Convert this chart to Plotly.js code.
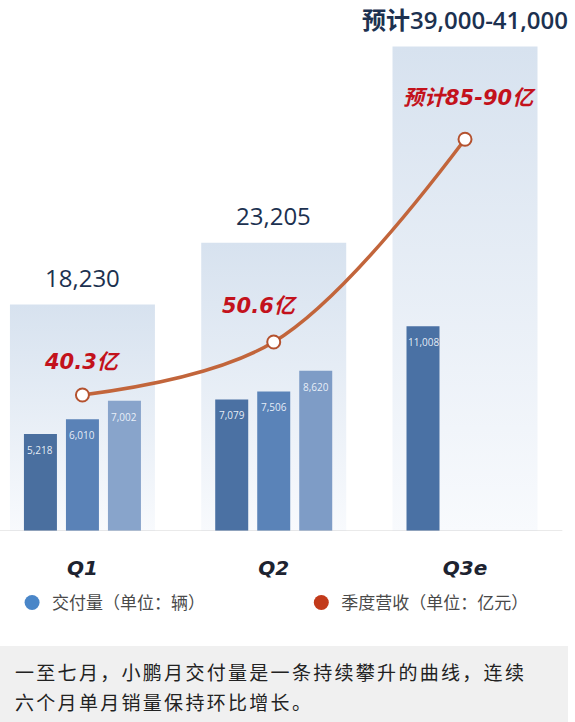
<!DOCTYPE html>
<html>
<head>
<meta charset="utf-8">
<script src="https://cdn.plot.ly/plotly-3.0.1.min.js"></script>
<style>
  html, body { margin: 0; padding: 0; background: #fff; }
  #wrap { position: relative; width: 575px; height: 722px; overflow: hidden; }
  #plot { position: absolute; left: 0; top: 0; width: 575px; height: 646px; }
  #note {
    position: absolute; left: 0; top: 646px; width: 568px; height: 76px;
    background: #f0f0f0; box-sizing: border-box; padding: 11px 0 0 15px;
    font-family: "Noto Sans CJK SC", "Noto Sans", sans-serif; font-size: 19px;
    line-height: 30px; letter-spacing: 2.3px; color: #222;
  }
</style>
</head>
<body>
<div id="wrap">
  <div id="plot"></div>
  <div id="note">一至七月，小鹏月交付量是一条持续攀升的曲线，连续<br>六个月单月销量保持环比增长。</div>
</div>
<script>
const quarters = ['Q1', 'Q2', 'Q3e'];
const quarterTotals = [18230, 23205, 39000];
const quarterTotalLabels = ['18,230', '23,205', '预计39,000-41,000'];
const month1 = [5218, 7079, 11008];
const month2 = [6010, 7506, null];
const month3 = [7002, 8620, null];
const revenue = [40.3, 50.6, 90];
const revenueLabels = ['40.3亿', '50.6亿', '预计85-90亿'];
const legendNames = ['交付量（单位：辆）', '季度营收（单位：亿元）'];

const slots = [month1, month2, month3];
const slotColors = [
  ['#4a6f9f', '#4b71a3', '#4a71a4'],
  ['#5a82b7', '#5a83b8', null],
  ['#88a4cb', '#7e9cc6', null]
];
const pitch = 0.2196;
const barW = 0.1725;
const rectW = 0.758;
const pos = quarters.map((q, i) => i);

const data = [];

// light background blocks = quarter totals
quarterTotals.forEach((t, i) => {
  data.push({
    type: 'scatter', mode: 'none', fill: 'toself',
    x: [i - rectW / 2, i + rectW / 2, i + rectW / 2, i - rectW / 2, i - rectW / 2],
    y: [0, 0, t, t, 0],
    fillgradient: { type: 'vertical', start: 0, stop: t, colorscale: [[0, '#f8fafd'], [1, '#d7e2ef']] },
    hoverinfo: 'skip', showlegend: false
  });
});

// monthly deliveries
slots.forEach((vals, s) => {
  data.push({
    type: 'bar', yaxis: 'y2',
    x: pos.map(p => p + (s - 1) * pitch),
    y: vals, width: barW,
    marker: { color: slotColors[s], line: { width: 0 } },
    hoverinfo: 'skip', showlegend: false
  });
});

// revenue line
data.push({
  type: 'scatter', yaxis: 'y3', mode: 'lines+markers',
  x: pos, y: revenue,
  line: { color: '#c2653b', width: 3.5, shape: 'spline', smoothing: 1 },
  marker: { size: 13, color: '#ffffff', line: { color: '#b4522f', width: 2 } },
  hoverinfo: 'skip', showlegend: false
});

// legend entries
data.push({
  type: 'scatter', mode: 'markers', x: [null], y: [null], name: legendNames[0],
  marker: { size: 15, color: '#4a86c8' }, legend: 'legend'
});
data.push({
  type: 'scatter', mode: 'markers', x: [null], y: [null], name: legendNames[1],
  marker: { size: 15, color: '#c23a1a' }, legend: 'legend2'
});

const annotations = [];
quarterTotals.forEach((t, i) => {
  annotations.push({
    x: i, y: t, xref: 'x', yref: 'y', yanchor: 'middle', yshift: 27,
    text: quarterTotalLabels[i], showarrow: false,
    font: { family: 'Open Sans, Noto Sans CJK SC', size: 24, color: '#1c3150', weight: i === 2 ? 600 : 400 }
  });
});
slots.forEach((vals, s) => {
  vals.forEach((v, i) => {
    if (v == null) return;
    annotations.push({
      x: i + (s - 1) * pitch, y: v, xref: 'x', yref: 'y2', yanchor: 'middle', yshift: -16,
      text: v.toLocaleString('en-US'), showarrow: false,
      font: { family: 'Open Sans', size: 10, color: 'rgba(240,245,252,0.95)' }
    });
  });
});
const revShiftX = [0, -14, 4];
const revShiftY = [33, 36, 41];
revenue.forEach((v, i) => {
  annotations.push({
    x: i, y: v, xref: 'x', yref: 'y3', yanchor: 'middle',
    xshift: revShiftX[i], yshift: revShiftY[i],
    text: revenueLabels[i], showarrow: false,
    font: { family: 'DejaVu Sans, Noto Sans CJK SC', size: 21, color: '#c3121c', weight: 700, style: 'italic' }
  });
});

const legendBase = {
  orientation: 'h', xanchor: 'left', y: -0.1356, yanchor: 'middle',
  font: { family: 'Noto Sans CJK SC', size: 17, color: '#4a4a4a' },
  bgcolor: 'rgba(0,0,0,0)'
};

const layout = {
  width: 575, height: 646,
  margin: { l: 0, r: 0, t: 0, b: 115 },
  paper_bgcolor: '#ffffff', plot_bgcolor: 'rgba(0,0,0,0)',
  barmode: 'overlay',
  showlegend: true,
  legend: Object.assign({}, legendBase, { x: 0.021 }),
  legend2: Object.assign({}, legendBase, { x: 0.524 }),
  xaxis: {
    type: 'linear', range: [-0.431, 2.575], fixedrange: true,
    tickvals: pos, ticktext: quarters,
    ticks: 'outside', ticklen: 19, tickcolor: 'rgba(0,0,0,0)',
    tickfont: { family: 'DejaVu Sans', size: 20, color: '#1d2330', weight: 700, style: 'italic' },
    showgrid: false, zeroline: false, showline: false
  },
  yaxis: { range: [0, 42754], visible: false, fixedrange: true },
  yaxis2: { range: [0, 28564], overlaying: 'y', visible: false, fixedrange: true },
  yaxis3: { range: [13.87, 117.06], overlaying: 'y', visible: false, fixedrange: true },
  shapes: [{
    type: 'line', xref: 'paper', yref: 'y', x0: 0, x1: 0.978, y0: 0, y1: 0,
    line: { color: '#d4d4d4', width: 1 }
  }],
  annotations: annotations
};

Plotly.newPlot('plot', data, layout, { displayModeBar: false, staticPlot: true });
</script>
</body>
</html>
